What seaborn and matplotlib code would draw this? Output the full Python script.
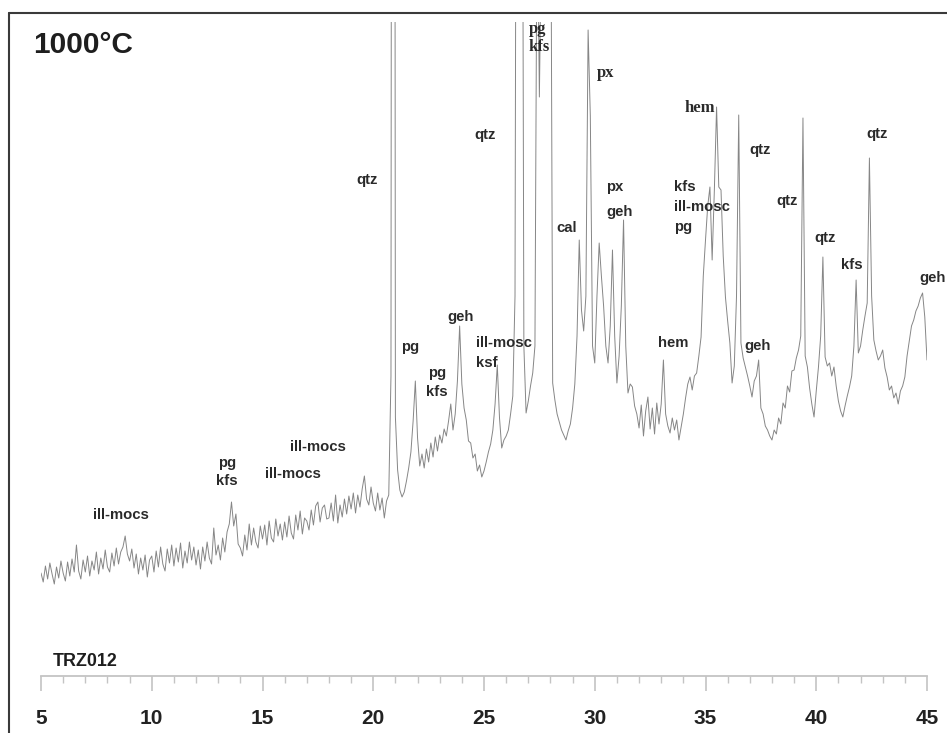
import numpy as np
import pandas as pd
import seaborn as sns
import matplotlib
matplotlib.use("Agg")
import matplotlib.pyplot as plt
from matplotlib import font_manager
from matplotlib.lines import Line2D
from matplotlib.ticker import MultipleLocator

# ---- diffractogram, 2-theta scan from 5 to 45 deg in 0.1 deg steps ----
two_theta = np.round(np.arange(5.0, 45.0001, 0.1), 1)

intensity = [
    103, 94, 110, 97, 113, 102, 92, 109, 98, 115,         # 5
    103, 95, 114, 100, 117, 104, 131, 105, 97, 116,       # 6
    104, 120, 100, 115, 106, 124, 102, 118, 107, 126,     # 7
    109, 104, 123, 110, 128, 112, 124, 129, 140, 122,     # 8
    115, 127, 108, 122, 102, 118, 106, 121, 99, 116,      # 9
    120, 104, 125, 109, 129, 112, 105, 127, 113, 131,     # 10
    110, 128, 114, 133, 108, 125, 113, 134, 116, 129,     # 11
    111, 126, 107, 129, 115, 134, 118, 112, 148, 121,     # 12
    131, 116, 138, 124, 144, 152, 174, 150, 162, 132,     # 13
    128, 120, 141, 126, 152, 131, 148, 134, 128, 150,     # 14
    137, 151, 131, 155, 138, 134, 157, 140, 152, 136,     # 15
    154, 139, 160, 143, 137, 161, 146, 165, 142, 158,     # 16
    155, 146, 166, 151, 170, 174, 154, 168, 171, 157,     # 17
    158, 173, 155, 181, 153, 171, 159, 177, 162, 180,     # 18
    167, 183, 163, 181, 169, 187, 200, 177, 171, 189,     # 19
    173, 165, 183, 166, 178, 158, 175, 181, 300, 3000,    # 20
    259, 206, 186, 179, 184, 195, 208, 224, 255, 295,     # 21
    238, 210, 222, 208, 227, 214, 233, 219, 239, 225,     # 22
    241, 233, 247, 240, 255, 272, 246, 262, 295, 350,     # 23
    292, 268, 256, 235, 233, 218, 222, 205, 211, 199,     # 24
    205, 214, 224, 232, 246, 272, 311, 258, 228, 236,     # 25
    240, 246, 262, 280, 380, 1400, 3000, 1200, 330, 263,  # 26
    275, 290, 303, 330, 800, 579, 760, 1000, 1500, 1800,  # 27
    900, 293, 276, 262, 254, 246, 241, 236, 245, 252,     # 28
    268, 292, 340, 436, 366, 345, 380, 646, 560, 330,     # 29
    313, 380, 433, 400, 370, 330, 313, 350, 426, 340,     # 30
    293, 320, 370, 456, 330, 283, 292, 289, 270, 262,     # 31
    248, 271, 240, 265, 279, 247, 268, 242, 273, 252,     # 32
    272, 316, 262, 250, 243, 258, 246, 256, 236, 249,     # 33
    262, 278, 292, 299, 286, 300, 303, 320, 339, 400,     # 34
    436, 470, 489, 416, 486, 569, 489, 486, 420, 379,     # 35
    355, 333, 293, 310, 380, 561, 333, 318, 309, 300,     # 36
    290, 279, 295, 300, 316, 268, 262, 250, 246, 240,     # 37
    236, 246, 242, 258, 252, 273, 268, 290, 284, 305,     # 38
    306, 318, 326, 340, 558, 320, 309, 288, 272, 259,     # 39
    285, 309, 340, 419, 319, 310, 313, 300, 309, 290,     # 40
    275, 265, 259, 270, 280, 289, 300, 330, 396, 323,     # 41
    330, 346, 360, 373, 518, 380, 336, 325, 316, 320,     # 42
    326, 308, 299, 286, 290, 278, 283, 272, 285, 290,     # 43
    299, 320, 335, 350, 356, 365, 370, 378, 383, 359,     # 44
    316,                                                  # 45
]

# ---- phase annotations: text, 2-theta, intensity, serif face, left-aligned ----
peak_labels = ["ill-mocs", "pg", "kfs", "ill-mocs", "ill-mocs", "qtz", "pg",
               "pg", "kfs", "geh", "ill-mosc", "ksf", "qtz", "pg", "kfs",
               "px", "cal", "px", "geh", "hem", "kfs", "ill-mosc", "pg",
               "qtz", "qtz", "qtz", "qtz", "hem", "geh", "kfs", "geh"]
label_x = [8.61, 13.40, 13.40, 16.38, 17.51, 19.72, 21.66,
           22.88, 22.88, 23.96, 24.64, 24.64, 25.05, 27.03, 27.03,
           30.51, 28.75, 30.51, 30.51, 34.75, 33.58, 33.58, 33.58,
           37.46, 38.68, 40.40, 42.74, 33.53, 37.37, 41.61, 45.23]
label_y = [161, 213, 195, 202, 229, 496, 329,
           303, 284, 359, 333, 313, 541, 647, 629,
           603, 448, 489, 464, 568, 489, 469, 449,
           526, 475, 438, 542, 333, 330, 411, 398]
label_serif = [False, False, False, False, False, False, False,
               False, False, False, False, False, False, True, True,
               True, False, False, False, True, False, False, False,
               False, False, False, False, False, False, False, False]
label_left = [False, False, False, False, False, False, False,
              False, False, False, True, True, False, True, True,
              False, False, True, True, False, True, True, True,
              False, False, False, False, False, False, False, False]

x_ticks = [5, 10, 15, 20, 25, 30, 35, 40, 45]
temperature = "1000°C"
sample_id = "TRZ012"

# ---- fonts ----
available = {f.name for f in font_manager.fontManager.ttflist}
narrow = "Liberation Sans Narrow" if "Liberation Sans Narrow" in available else "Liberation Sans"
shrink = 1.0 if narrow == "Liberation Sans Narrow" else 0.86
serif = "Liberation Serif"

sns.set_theme(style="white")
plt.rcParams["font.family"] = [narrow, "DejaVu Sans"]

W, H = 947, 733
fig = plt.figure(figsize=(W / 100, H / 100), dpi=100)
fig.patch.set_facecolor("white")

# data axes: 2-theta 5 -> px 41, 45 -> px 927; baseline px 676, top px 22
ax = fig.add_axes([41 / W, 1 - 676 / H, 886 / W, 654 / H])
df = pd.DataFrame({"two_theta": two_theta, "counts": intensity})
sns.lineplot(data=df, x="two_theta", y="counts", ax=ax, estimator=None,
             color="#868686", linewidth=0.7)
ax.set_xlim(5, 45)
ax.set_ylim(0, 654)
ax.set_facecolor("none")
ax.set_xlabel("")
ax.set_ylabel("")
ax.set_yticks([])
for side in ("top", "right", "left"):
    ax.spines[side].set_visible(False)
ax.spines["bottom"].set_color("#c4c4c4")
ax.spines["bottom"].set_linewidth(1.3)
ax.set_xticks(x_ticks)
ax.set_xticklabels([str(t) for t in x_ticks])
ax.xaxis.set_minor_locator(MultipleLocator(1))
ax.tick_params(axis="x", which="major", direction="out", length=10.8, width=1.2,
               color="#c4c4c4", pad=13, labelsize=17.5 * shrink, labelcolor="#222222")
ax.tick_params(axis="x", which="minor", direction="out", length=5.0, width=1.0,
               color="#c4c4c4")
ax.tick_params(axis="x", which="both", bottom=True)
for lbl in ax.get_xticklabels():
    lbl.set_fontweight("bold")

# phase labels
for txt, lx, ly, is_serif, left in zip(peak_labels, label_x, label_y,
                                       label_serif, label_left):
    ax.text(lx, ly, txt, ha="left" if left else "center", va="center",
            fontsize=12 if is_serif else 12.5 * shrink, fontweight="bold",
            family=[serif] if is_serif else [narrow, "DejaVu Sans"],
            color="#2a2a2a", clip_on=False)

# heading and sample code
fig.text(33 / W, 1 - 45 / H, temperature, ha="left", va="center",
         fontsize=25 * shrink, fontweight="bold", color="#1e1e1e")
fig.text(53 / W, 1 - 661 / H, sample_id, ha="left", va="center",
         fontsize=15 * shrink, fontweight="bold", color="#1e1e1e")

# panel frame (left and top edges)
fx, fy = 9 / W, 1 - 13 / H
fig.add_artist(Line2D([fx, fx], [0, fy], transform=fig.transFigure,
                      color="#3a3a3a", linewidth=1.5))
fig.add_artist(Line2D([fx, 1], [fy, fy], transform=fig.transFigure,
                      color="#3a3a3a", linewidth=1.5))

fig.savefig("out.png", dpi=100, facecolor="white")
